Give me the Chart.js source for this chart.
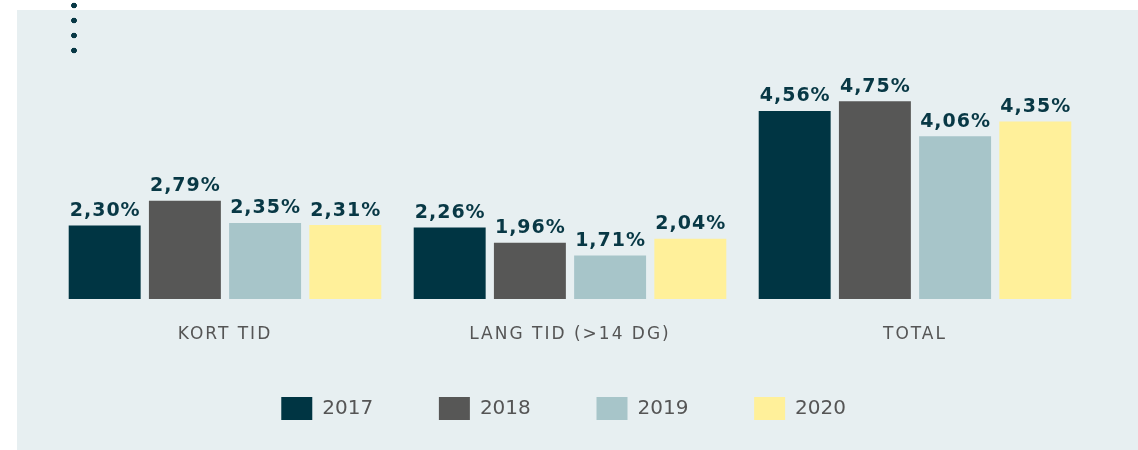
<!DOCTYPE html>
<html>
<head>
<meta charset="utf-8">
<script src="https://cdn.jsdelivr.net/npm/chart.js@4.4.0/dist/chart.umd.min.js"></script>
<style>
    body { margin: 0; background: #fff; overflow: hidden; }
    #wrap { position: relative; width: 1138px; height: 450px; overflow: hidden; }
    #panel { position: absolute; left: 17px; top: 10px; width: 1121px; height: 440px; background: #e7eff1; }
    #dots {
        position: absolute; left: 71px; top: -2.5px; width: 6px; height: 60px;
        background: radial-gradient(circle, #083845 2.6px, transparent 3.1px) 0 0 / 6px 15px repeat-y;
    }
    #box { position: absolute; left: 0; top: 0; width: 1138px; height: 450px; }
</style>
</head>
<body>
<div id="wrap">
    <div id="panel"></div>
    <div id="dots"></div>
    <div id="box"><canvas id="barChart"></canvas></div>
</div>
<script>
const categories = ['KORT TID', 'LANG TID (>14 DG)', 'TOTAL'];
const years = ['2017', '2018', '2019', '2020'];
const values2017 = [2.30, 2.26, 4.56];
const values2018 = [2.79, 1.96, 4.75];
const values2019 = [2.35, 1.71, 4.06];
const values2020 = [2.31, 2.04, 4.35];
const colors = ['#003543', '#575756', '#a7c5c9', '#fff09a'];

// value labels above the bars, plus letter spacing for the category labels
const valueLabels = {
    id: 'valueLabels',
    beforeDraw(chart) {
        chart.ctx.letterSpacing = '0px';
    },
    afterDatasetsDraw(chart) {
        const ctx = chart.ctx;
        ctx.save();
        ctx.letterSpacing = '1px';
        ctx.font = 'bold 19px "DejaVu Sans"';
        ctx.fillStyle = '#083845';
        ctx.textAlign = 'center';
        ctx.textBaseline = 'alphabetic';
        chart.data.datasets.forEach((ds, i) => {
            chart.getDatasetMeta(i).data.forEach((bar, j) => {
                const txt = ds.data[j].toFixed(2).replace('.', ',') + '%';
                ctx.fillText(txt, bar.x + 0.5, bar.y - 9.5);
            });
        });
        ctx.restore();
        ctx.letterSpacing = '2px';
    },
    afterDraw(chart) {
        chart.ctx.letterSpacing = '0px';
    }
};

const series = [values2017, values2018, values2019, values2020];
const ctx = document.getElementById('barChart').getContext('2d');

const chart = new Chart(ctx, {
    type: 'bar',
    data: {
        labels: categories,
        datasets: years.map((y, i) => ({
            label: y,
            data: series[i],
            backgroundColor: colors[i],
            borderWidth: 0,
            categoryPercentage: 0.93,
            barPercentage: 0.897
        }))
    },
    plugins: [valueLabels],
    options: {
        responsive: true,
        maintainAspectRatio: false,
        animation: false,
        layout: {
            padding: { left: 52.5, right: 50.5, top: 40, bottom: 20 }
        },
        scales: {
            x: {
                grid: { display: false, drawTicks: false },
                border: { display: false },
                ticks: {
                    color: '#555',
                    font: { family: 'DejaVu Sans', size: 17 },
                    padding: 25,
                    z: 1
                },
                afterFit(scale) {
                    scale.height = 45;
                }
            },
            y: {
                display: false,
                min: 0.85,
                max: 5.96
            }
        },
        plugins: {
            tooltip: { enabled: false },
            legend: {
                position: 'bottom',
                labels: {
                    boxWidth: 31,
                    boxHeight: 23,
                    padding: 53,
                    color: '#555',
                    font: { family: 'DejaVu Sans', size: 20 },
                    // a bit of trailing room so the items spread out like the original
                    generateLabels(chart) {
                        return Chart.defaults.plugins.legend.labels.generateLabels(chart)
                            .map(item => ({ ...item, text: item.text + '  ' }));
                    }
                }
            }
        }
    }
});
</script>
</body>
</html>
